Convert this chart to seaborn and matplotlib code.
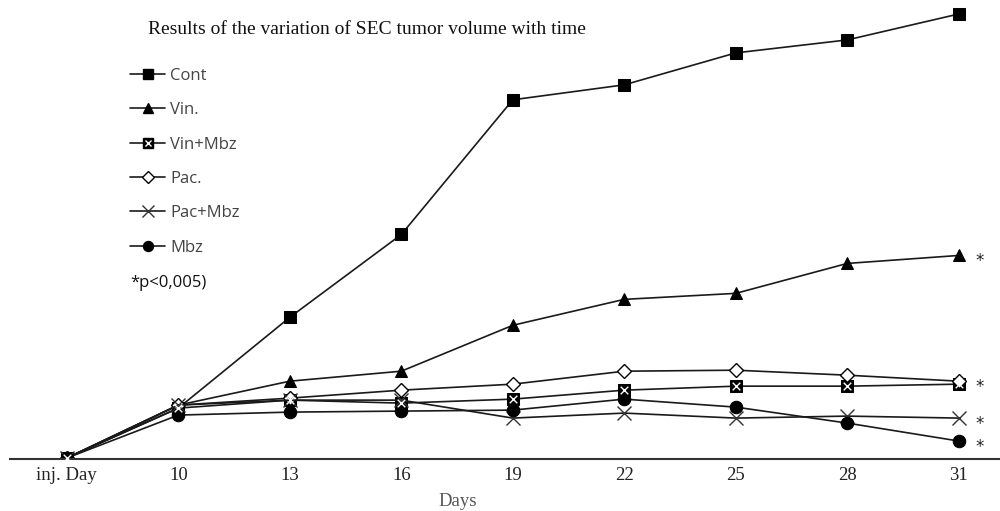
import matplotlib
matplotlib.use("Agg")
import matplotlib.pyplot as plt
from matplotlib.lines import Line2D
import seaborn as sns
import pandas as pd
import numpy as np

days = ["inj. Day", "10", "13", "16", "19", "22", "25", "28", "31"]
cont = [0, 50, 141, 224, 359, 374, 406, 419, 445]
vin = [0, 53, 77, 87, 133, 159, 165, 195, 203]
vin_mbz = [0, 50, 58, 55, 59, 68, 72, 72, 74]
pac = [0, 53, 60, 68, 74, 87, 88, 83, 77]
pac_mbz = [0, 53, 58, 58, 40, 45, 40, 42, 40]
mbz = [0, 43, 46, 47, 48, 59, 51, 35, 17]
labels = ["Cont", "Vin.", "Vin+Mbz", "Pac.", "Pac+Mbz", "Mbz"]
# asterisk shown once for the overlapping Vin+Mbz / Pac. end points
star_shown = [False, True, False, True, True, True]

series = [cont, vin, vin_mbz, pac, pac_mbz, mbz]
styles = [
    dict(marker="s", markersize=9, markerfacecolor="black", markeredgecolor="black"),
    dict(marker="^", markersize=9, markerfacecolor="black", markeredgecolor="black"),
    dict(marker="s", markersize=9, markerfacecolor="black", markeredgecolor="black"),
    dict(marker="D", markersize=7.5, markerfacecolor="white", markeredgecolor="black", markeredgewidth=1.0),
    dict(marker="x", markersize=10.5, markerfacecolor="black", markeredgecolor="#333333", markeredgewidth=1.0),
    dict(marker="o", markersize=9, markerfacecolor="black", markeredgecolor="black"),
]

rows = []
for lab, vals in zip(labels, series):
    for i, v in enumerate(vals):
        rows.append(dict(group=lab, pos=i, day=days[i], volume=v))
df = pd.DataFrame(rows)

sns.set_style("white")
fig = plt.figure(figsize=(10, 5.11), dpi=100)
ax = fig.add_axes([0.01, 1 - 459 / 511, 0.99, (459 - 5) / 511])

for lab, st in zip(labels, styles):
    sub = df[df.group == lab]
    sns.lineplot(data=sub, x="pos", y="volume", color="#1a1a1a", linewidth=1.2,
                 ax=ax, legend=False, **st)
    if lab == "Vin+Mbz":
        sns.scatterplot(data=sub, x="pos", y="volume", marker="x", s=30,
                        color="white", linewidth=1.0, ax=ax, legend=False, zorder=5)

ax.set_xlim(-0.51, 8.37)
ax.set_ylim(-1, 454)
ax.set_xticks(range(len(days)))
ax.set_xticklabels(days, fontfamily="Liberation Serif", fontsize=13.5, color="#222222")
ax.tick_params(axis="x", length=0, pad=6)
ax.set_yticks([])
ax.set_ylabel("")
ax.set_xlabel("Days", fontfamily="Liberation Serif", fontsize=13.5, color="#555555")
ax.xaxis.set_label_coords((458 - 10) / 990, -0.075)
for s in ["top", "right", "left"]:
    ax.spines[s].set_visible(False)
ax.spines["bottom"].set_color("#333333")
ax.spines["bottom"].set_linewidth(1.5)

# significance asterisks
for vals, sig in zip(series, star_shown):
    if sig:
        ax.annotate("*", xy=(8, vals[-1]), xytext=(12, -4), textcoords="offset points",
                    fontsize=12, color="#222222", va="center", ha="left")

# legend
handles = []
for lab, st in zip(labels, styles):
    st2 = dict(st)
    st2["markersize"] = st["markersize"] * 0.8
    h = Line2D([0], [0], color="#1a1a1a", linewidth=1.2, **st2)
    if lab == "Vin+Mbz":
        h = (h, Line2D([0], [0], linestyle="none", marker="x", markersize=5,
                       markeredgecolor="white", markeredgewidth=1.0))
    handles.append(h)
leg = ax.legend(handles, labels, loc="upper left", bbox_to_anchor=(130 / 1000, 1 - 68 / 511),
                bbox_transform=fig.transFigure,
                frameon=False, prop=dict(family="Open Sans", size=12),
                labelcolor="#444444", handlelength=2.1, handletextpad=0.3,
                labelspacing=1.1, borderaxespad=0, borderpad=0)
fig.text(130 / 1000, 1 - 283 / 511, "*p<0,005)", fontfamily="Open Sans", fontsize=12,
         color="#111111", va="center", ha="left")

fig.text(148 / 1000, 1 - 30 / 511, "Results of the variation of SEC tumor volume with time",
         fontfamily="Liberation Serif", fontsize=14, color="#111111", va="center", ha="left")

fig.savefig("out.png", dpi=100)
